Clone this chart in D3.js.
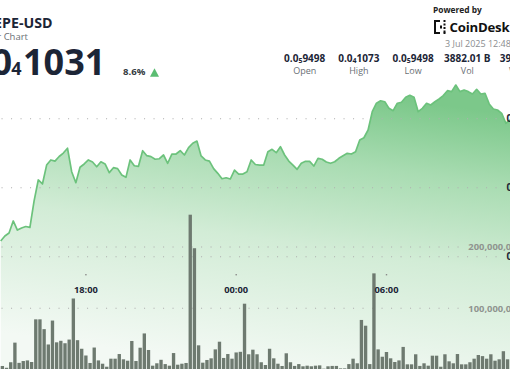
<!DOCTYPE html>
<html><head><meta charset="utf-8">
<script src="https://cdn.jsdelivr.net/npm/d3@7"></script>
<style>
html,body{margin:0;padding:0;background:#fff;overflow:hidden}
svg{display:block;font-family:"Open Sans",sans-serif}
</style></head><body>
<script>
// price in units of 1e-5 USD, one point per 10 minute bar
var prices = [0.9614,0.9650,0.9672,0.9759,0.9693,0.9708,0.9719,0.9712,0.9904,1.0056,
  1.0027,1.0164,1.0201,1.0193,1.0226,1.0251,1.0286,1.0116,1.0036,1.0148,
  1.0172,1.0201,1.0186,1.0152,1.0188,1.0172,1.0109,1.0145,1.0138,1.0092,
  1.0075,1.0201,1.0159,1.0155,1.0268,1.0232,1.0225,1.0206,1.0210,1.0237,
  1.0177,1.0244,1.0244,1.0268,1.0237,1.0290,1.0322,1.0338,1.0230,1.0201,
  1.0193,1.0138,1.0104,1.0065,1.0072,1.0063,1.0128,1.0099,1.0099,1.0116,
  1.0201,1.0168,1.0164,1.0164,1.0261,1.0278,1.0254,1.0297,1.0237,1.0193,
  1.0164,1.0133,1.0177,1.0191,1.0191,1.0157,1.0213,1.0206,1.0186,1.0177,
  1.0188,1.0213,1.0232,1.0249,1.0244,1.0261,1.0346,1.0362,1.0418,1.0551,
  1.0612,1.0630,1.0623,1.0575,1.0558,1.0612,1.0619,1.0655,1.0670,1.0655,
  1.0551,1.0575,1.0612,1.0599,1.0623,1.0643,1.0667,1.0703,1.0696,1.0744,
  1.0696,1.0708,1.0696,1.0679,1.0713,1.0679,1.0684,1.0607,1.0570,1.0563,
  1.0539,1.0467,1.0491];
// volume in millions
var volumes = [5.9,3,12,44,11,14,15,12.4,82,82,
  66,41,80,44.5,47,43,49,116,48,34,
  23,10.8,36,15,9.6,4.7,17.8,17.8,25.4,16.8,
  14.5,46.7,14,35.7,59,32,6.4,10.3,16,9,
  6.4,27,8,9.6,10.8,252.7,198,39.6,11.3,15.7,
  18.4,33,45.5,19,25.4,17.8,28,29,107.5,25,
  32.5,25,12,7.5,34,18.4,9.6,5.9,26.6,12,
  6,9,5.4,6.4,5.4,6.4,6.9,1.5,5.4,6,
  6,2,2,9,17.8,10.3,81,71.6,9,157,
  33,21,28.7,18.4,12.4,15,37,8.6,8.6,25,
  6,10.3,6.4,22.7,22.7,4.7,25,13.5,10.3,25.4,
  8.6,8.6,12,17.8,23.8,22,17.8,25,14.5,16.8,
  30,16.8,13];
var priceTicks = [0.95, 1.00, 1.05];
var priceTickLabels = ["0.0₅9500", "0.0₄1000", "0.0₄1050"];
var volTicks = [100, 200];
var statValues = [["0.0","5","9498"],["0.0","4","1073"],["0.0","5","9498"],["3882.01 B","",""],["394.55 M","",""]];
var statLabels = ["Open","High","Low","Vol","VWAP"];

var W = 510, H = 369;
var t0 = new Date(2025, 6, 2, 14, 40);
var step = 10 * 60 * 1000;
var times = prices.map(function(d, i){ return new Date(+t0 + i * step); });

var svg = d3.select("body").append("svg").attr("width", W).attr("height", H);

var x = d3.scaleTime().domain([t0, new Date(+t0 + 123 * step)]).range([0.7, 0.7 + 123 * 4.175]);
var yP = d3.scaleLinear().domain([0.95, 1.05]).range([256.7, 118.7]);
var yV = d3.scaleLinear().domain([0, 200]).range([369.6, 247]);

var defs = svg.append("defs");
var grad = defs.append("linearGradient").attr("id", "fillGrad")
  .attr("gradientUnits", "userSpaceOnUse")
  .attr("x1", 300).attr("y1", 85).attr("x2", 260).attr("y2", 369);
[[0, "#7cc88a"], [0.25, "#a9dcb2"], [0.55, "#d2ecd6"], [1, "#f3f9f4"]].forEach(function(s){
  grad.append("stop").attr("offset", s[0]).attr("stop-color", s[1]);
});

// area + line
var area = d3.area().x(function(d, i){ return x(times[i]); })
  .y0(yV(0)).y1(function(d){ return yP(d); });
svg.append("path").datum(prices).attr("d", area).attr("fill", "url(#fillGrad)");

// gridlines
priceTicks.forEach(function(v){
  svg.append("line").attr("x1", 1.5).attr("x2", 502).attr("y1", yP(v)).attr("y2", yP(v))
    .attr("stroke", "#b0b0b0").attr("stroke-width", 1.1).attr("stroke-dasharray", "1.1 8.4");
});
volTicks.forEach(function(v){
  svg.append("line").attr("x1", 1.5).attr("x2", 463).attr("y1", yV(v)).attr("y2", yV(v))
    .attr("stroke", "#b0b0b0").attr("stroke-width", 1.1).attr("stroke-dasharray", "1.1 8.4");
});

// volume bars
svg.selectAll("rect.vol").data(volumes).enter().append("rect").attr("class", "vol")
  .attr("x", function(d, i){ return x(times[i]); })
  .attr("y", function(d){ return yV(d); })
  .attr("width", 3.35)
  .attr("height", function(d){ return yV(0) - yV(d); })
  .attr("fill", "#6e7a70");

var line = d3.line().x(function(d, i){ return x(times[i]); }).y(function(d){ return yP(d); });
svg.append("path").datum(prices).attr("d", line).attr("fill", "none")
  .attr("stroke", "#6cc27c").attr("stroke-width", 1.7).attr("stroke-linejoin", "round");

// time ticks
var ticks = x.ticks(d3.timeHour.every(6));
var fmt = d3.timeFormat("%H:%M");
ticks.forEach(function(t){
  var cx = x(t) + 1.7;
  svg.append("rect").attr("x", cx - 0.7).attr("y", 274).attr("width", 1.4).attr("height", 1.4).attr("fill", "#8a8a8a");
  svg.append("text").attr("x", cx).attr("y", 292.6).attr("text-anchor", "middle")
    .attr("font-size", 9.3).attr("font-weight", 700).attr("fill", "#1c2536").text(fmt(t));
});

// axis labels
priceTicks.forEach(function(v, i){
  svg.append("text").attr("x", 506.5).attr("y", yP(v) + 3.5).attr("font-size", 10)
    .attr("font-weight", 700).attr("fill", "#1c2536").text(priceTickLabels[i]);
});
volTicks.forEach(function(v){
  svg.append("text").attr("x", 468.3).attr("y", yV(v) + 3.4).attr("font-size", 9.4)
    .attr("font-weight", 700).attr("fill", "#8f948f").text(d3.format(",")(v * 1e6));
});

// header
svg.append("text").attr("x", 52.5).attr("y", 28.3).attr("text-anchor", "end")
  .attr("font-size", 14.2).attr("font-weight", 700).attr("fill", "#1c2536").text("PEPE-USD");
svg.append("text").attr("x", 28).attr("y", 40).attr("text-anchor", "end")
  .attr("font-size", 9.5).attr("fill", "#6a6f75").text("24 Hour Chart");
svg.append("text").attr("x", 12).attr("y", 75).attr("text-anchor", "end")
  .attr("font-size", 36).attr("font-weight", 700).attr("fill", "#1c2536").text("0.0");
svg.append("text").attr("x", 11.2).attr("y", 75).attr("font-size", 18)
  .attr("font-weight", 700).attr("fill", "#1c2536").text("4");
svg.append("text").attr("x", 23).attr("y", 75).attr("font-size", 36)
  .attr("font-weight", 700).attr("fill", "#1c2536").text("1031");
svg.append("text").attr("x", 123).attr("y", 75).attr("font-size", 9.6)
  .attr("font-weight", 700).attr("fill", "#333a40").text("8.6%");
svg.append("path").attr("d", "M150,76.7L154.5,68.3L159,76.7Z").attr("fill", "#5bbd72");

// stats
statValues.forEach(function(s, i){
  var cx = 304.7 + i * 54.2;
  var t = svg.append("text").attr("x", cx).attr("y", 61.7).attr("text-anchor", "middle")
    .attr("font-size", 10).attr("font-weight", 700).attr("fill", "#1c2536");
  t.append("tspan").text(s[0]);
  if (s[1]) {
    t.append("tspan").attr("font-size", 7).attr("dy", 1.5).text(s[1]);
    t.append("tspan").attr("dy", -1.5).text(s[2]);
  }
  svg.append("text").attr("x", cx).attr("y", 74).attr("text-anchor", "middle")
    .attr("font-size", 9).attr("fill", "#6a6f75").text(statLabels[i]);
});

// powered by
svg.append("text").attr("x", 433).attr("y", 12.5).attr("font-size", 8.4)
  .attr("font-weight", 700).attr("fill", "#222").text("Powered by");
var logo = svg.append("g").attr("fill", "#111");
[[434,20,2,14],[434,20,6,2],[434,32,6,2],[443.5,20,2,2],[443.5,23.5,2,2],[443.5,27,2,2],[443.5,30.5,2,2],[443.5,32,2,2],[440,25.5,2,3]].forEach(function(r){
  logo.append("rect").attr("x", r[0]).attr("y", r[1]).attr("width", r[2]).attr("height", r[3]);
});
svg.append("text").attr("x", 449.5).attr("y", 32).attr("font-size", 13.2)
  .attr("font-weight", 700).attr("fill", "#111").attr("letter-spacing", -0.2).text("CoinDesk");
svg.append("text").attr("x", 445).attr("y", 46.5).attr("font-size", 9)
  .attr("fill", "#8a8d90").text("3 Jul 2025 12:48 UTC");
</script></body></html>
